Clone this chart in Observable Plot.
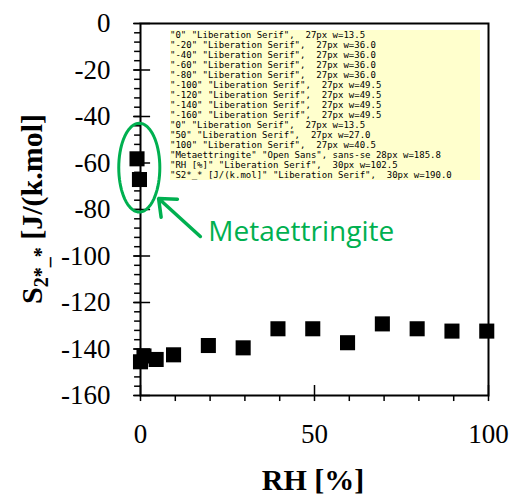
<!DOCTYPE html>
<html>
<head>
<meta charset="utf-8">
<script src="https://cdn.jsdelivr.net/npm/d3@7"></script>
<script src="https://cdn.jsdelivr.net/npm/@observablehq/plot@0.6"></script>
<style>
  html, body { margin: 0; padding: 0; background: #fff; }
  #dbg { position: absolute; left: 170px; top: 30px; width: 310px; font-size: 9px; white-space: pre-wrap; word-break: break-all; margin: 0; background: rgba(255,255,200,0.9); font-family: monospace; }
</style>
</head>
<body>
<div id="chart"></div>
<pre id="dbg"></pre>
<script>
// Data
const rh = [0, 1, 4.5, 9.5, 19.5, 29.5, 39.5, 49.5, 59.5, 69.5, 79.5, 89.5, 99.5];
const entropy = [-145.5, -143, -144.5, -142.5, -138.5, -139.5, -131.3, -131.3, -137.3, -129.2, -131.3, -132.3, -132.3];
const metaRH = [-1, -0.3];
const metaEntropy = [-58.2, -67.1];
const yTicks = [0, -20, -40, -60, -80, -100, -120, -140, -160];
const yMinorTicks = d3.range(0, -161, -4);
const xTicks = [0, 50, 100];
const xMinorTicks = d3.range(0, 101, 10);
const annotationText = "Metaettringite";

const main = rh.map((x, i) => ({x, y: entropy[i]}));
const meta = metaRH.map((x, i) => ({x, y: metaEntropy[i]}));

const green = "#00B050";
const serif = '"Liberation Serif", "Times New Roman", serif';
const sans = '"Open Sans", sans-serif';

const ell = d3.range(0, 73).map(i => {
  const t = i / 72 * 2 * Math.PI;
  return {x: -0.35 + 5.9 * Math.cos(t), y: -62 + 19.1 * Math.sin(t)};
});

const chart = Plot.plot({
  width: 514, height: 498,
  marginLeft: 140, marginRight: 26, marginTop: 23, marginBottom: 103,
  style: {background: "#fff", color: "#000"},
  x: {domain: [0, 100]},
  y: {domain: [-160, 0]},
  marks: [
    Plot.frame({stroke: "#000", strokeWidth: 2}),
    Plot.axisY({ticks: yTicks, tickSize: 0, tickPadding: 30, fontSize: 27, fill: "#000", label: null, tickFormat: d => d === 0 ? "0" : "-" + Math.abs(d)}),
    Plot.axisX({ticks: xTicks, tickSize: 0, tickPadding: 28, fontSize: 27, fill: "#000", label: null}),
    Plot.ruleY(yMinorTicks, {y: d => d, x1: -1.7, x2: 0, stroke: "#000", strokeWidth: 1.5, clip: false}),
    Plot.ruleY(yTicks, {y: d => d, x1: -2, x2: 2.9, stroke: "#000", strokeWidth: 1.5, clip: false}),
    Plot.ruleX(xMinorTicks, {x: d => d, y1: -162.6, y2: -160, stroke: "#000", strokeWidth: 1.5, clip: false}),
    Plot.ruleX(xTicks, {x: d => d, y1: -160, y2: -155.7, stroke: "#000", strokeWidth: 1.5, clip: false}),
    Plot.dot(main, {x: "x", y: "y", symbol: "square", r: 8.5, fill: "#000", stroke: null, clip: false}),
    Plot.dot(meta, {x: "x", y: "y", symbol: "square", r: 8.5, fill: "#000", stroke: null, clip: false}),
    Plot.line(ell, {x: "x", y: "y", stroke: green, strokeWidth: 3, curve: "linear"}),
    Plot.arrow([{x1: 17.2, y1: -91.6, x2: 5.2, y2: -75.3}], {x1: "x1", y1: "y1", x2: "x2", y2: "y2", stroke: green, strokeWidth: 3.5, headLength: 14, headAngle: 80}),
    Plot.text([annotationText], {x: 19.5, y: -89.9, text: d => d, textAnchor: "start", fill: green, fontSize: 28, fontFamily: sans})
  ]
});

document.getElementById("chart").appendChild(chart);
const svg = d3.select(chart);
svg.append("text")
  .attr("x", 313).attr("y", 490)
  .attr("text-anchor", "middle")
  .attr("font-weight", "bold").attr("font-size", 30)
  .attr("fill", "#000")
  .text("RH [%]");
const yt = svg.append("text")
  .attr("transform", "translate(42,209) rotate(-90)")
  .attr("text-anchor", "middle")
  .attr("font-weight", "bold").attr("font-size", 30)
  .attr("fill", "#000");
yt.append("tspan").text("S");
yt.append("tspan").attr("font-size", 20).attr("dy", 6).text("2*_*");
yt.append("tspan").attr("dy", -6).text(" [J/(k.mol]");

chart.querySelectorAll("text").forEach(t => {
  const fam = t.textContent === annotationText ? sans : serif;
  t.style.setProperty("font-family", fam, "important");
});

const out = [];
chart.querySelectorAll("text").forEach(t => {
  const cs = getComputedStyle(t);
  let w = 0; try { w = t.getComputedTextLength().toFixed(1); } catch (e) {}
  out.push(JSON.stringify(t.textContent) + " " + cs.fontFamily.slice(0, 20) + " " + cs.fontSize + " w=" + w);
});
document.getElementById("dbg").textContent = out.join("\n");
</script>
</body>
</html>
